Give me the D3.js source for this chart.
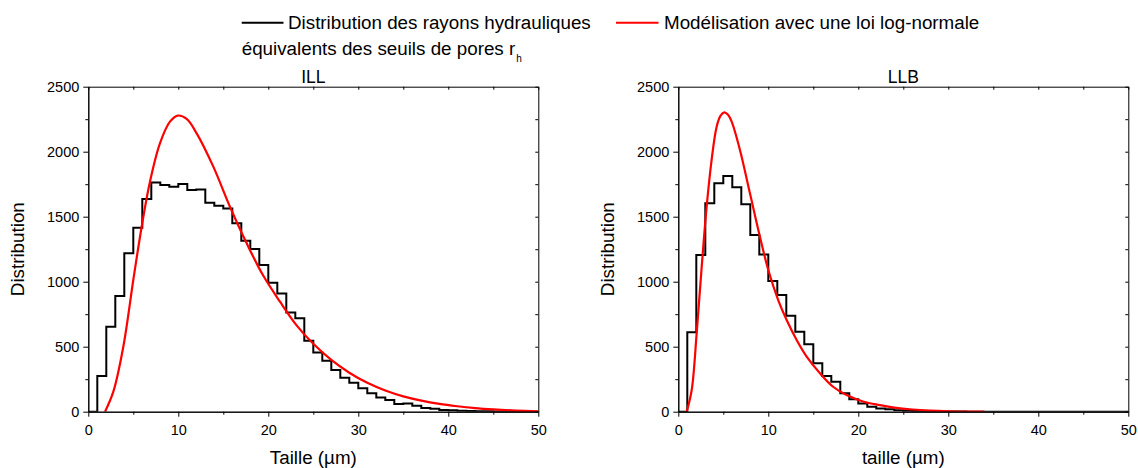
<!DOCTYPE html>
<html><head><meta charset="utf-8">
<script src="https://cdn.jsdelivr.net/npm/d3@7"></script>
<style>
body{margin:0;background:#fff}
svg{display:block;font-family:"Liberation Sans",Arial,sans-serif}
</style></head><body>
<svg id="c" width="1138" height="468"></svg>
<script>
// ---- data ----
const binStarts = [0,1,2,3,4,5,6,7,8,9,10,11,12,13,14,15,16,17,18,19,20,21,22,23,24,25,26,27,28,29,30,31,32,33,34,35,36,37,38,39,40,41,42,43,44,45,46,47,48,49];
const binWidth = 1;
const illCounts = [0,275,653,890,1218,1415,1636,1764,1743,1731,1751,1705,1710,1608,1584,1564,1449,1315,1251,1128,992,910,764,718,546,456,392,320,262,223,180,141,110,90,59,64,46,28,23,14,12,8,6,4,3,2,1,1,1,0];
const llbCounts = [0,611,1205,1603,1757,1813,1726,1595,1359,1210,1005,897,739,615,518,372,275,231,141,95,64,38,25,18,12,8,5,3,2,1,1,1,0,0,0,0,0,0,0,0,0,0,0,0,0,0,0,0,0,0];
const illFitX = [1.86,2.78,3.89,5.0,5.93,6.85,7.96,9.07,9.93,10.93,12.04,13.89,15.74,17.6,19.4,21.3,23.1,25.0,27.0,29.0,31.0,33.0,35.0,37.0,39.0,41.0,43.0,45.0,47.5,50];
const illFitY = [0,154,500,1013,1423,1769,2064,2231,2278,2252,2141,1885,1577,1295,1051,846,668,522,398,300,222,163,118,85,60,42,28,18,9,3];
const llbFitX = [0.93,1.49,2.04,2.6,3.15,3.7,4.26,4.7,5.11,5.5,5.93,6.85,7.96,9.07,10.0,11.1,12.04,13.15,14.26,15.74,17.2,18.7,20.6,22.4,24,26,28,30,32,34];
const llbFitY = [0,167,603,1115,1577,1936,2192,2277,2303,2286,2231,2013,1680,1346,1090,859,705,551,423,295,192,128,77,51,32,17,8,3,1,0];
const xMajor = [0,10,20,30,40,50];
const xMinor = [5,15,25,35,45];
const yMajor = [0,500,1000,1500,2000,2500];
const yMinor = [250,750,1250,1750,2250];
const legendLabels = ["Distribution des rayons hydrauliques", "équivalents des seuils de pores r", "h", "Modélisation avec une loi log-normale"];
const panelTitles = ["ILL","LLB"];
const xTitles = ["Taille (µm)","taille (µm)"];
const yTitle = "Distribution";

const svg = d3.select("#c");
const plotTop = 86.7, plotBottom = 411.7;

function panel(idx, left, counts, fx, fy){
  const right = left + 450;
  const x = d3.scaleLinear().domain([0,50]).range([left,right]);
  const y = d3.scaleLinear().domain([0,2500]).range([plotBottom,plotTop]);
  const g = svg.append("g");
  const cid = "clip"+idx;
  svg.append("clipPath").attr("id",cid).append("rect")
    .attr("x",left).attr("y",plotTop-2).attr("width",450).attr("height",plotBottom-plotTop+2);

  const pts = binStarts.map((b,i)=>[b,counts[i]]);
  pts.push([binStarts[binStarts.length-1]+binWidth, counts[counts.length-1]]);
  g.append("path").attr("clip-path",`url(#${cid})`)
    .attr("d", d3.line().x(d=>x(d[0])).y(d=>y(d[1])).curve(d3.curveStepAfter)(pts))
    .attr("fill","none").attr("stroke","#000").attr("stroke-width",2).attr("stroke-linejoin","miter");

  const fpts = fx.map((v,i)=>[v,fy[i]]);
  g.append("path").attr("clip-path",`url(#${cid})`)
    .attr("d", d3.line().x(d=>x(d[0])).y(d=>y(d[1])).curve(d3.curveCatmullRom.alpha(0.5))(fpts))
    .attr("fill","none").attr("stroke","#f00").attr("stroke-width",2.2);

  const style = sel => { sel.selectAll("path.domain").attr("stroke","#000").attr("stroke-width",1);
    sel.selectAll(".tick line").attr("stroke","#000").attr("stroke-width",1);
    sel.selectAll("text").attr("font-family","Liberation Sans, Arial, sans-serif").attr("font-size",14.5).attr("fill","#000"); };
  const fmt = d3.format("d");

  g.append("g").attr("transform",`translate(0,${plotBottom})`)
    .call(d3.axisBottom(x).tickValues(xMajor).tickFormat(fmt).tickSize(5).tickSizeOuter(0).tickPadding(8)).call(style);
  g.append("g").attr("transform",`translate(0,${plotBottom})`)
    .call(d3.axisBottom(x).tickValues(xMinor).tickSize(3).tickSizeOuter(0).tickFormat("")).call(style);
  g.append("g").attr("transform",`translate(${left},0)`)
    .call(d3.axisLeft(y).tickValues(yMajor).tickFormat(fmt).tickSize(5).tickSizeOuter(0).tickPadding(4)).call(style);
  g.append("g").attr("transform",`translate(${left},0)`)
    .call(d3.axisLeft(y).tickValues(yMinor).tickSize(3).tickSizeOuter(0).tickFormat("")).call(style);
  g.append("g").attr("transform",`translate(0,${plotTop})`)
    .call(d3.axisTop(x).tickValues(xMajor.concat(xMinor)).tickSize(-3).tickSizeOuter(0).tickFormat("")).call(style);
  g.append("g").attr("transform",`translate(${right},0)`)
    .call(d3.axisRight(y).tickValues(yMajor.concat(yMinor)).tickSize(-3).tickSizeOuter(0).tickFormat("")).call(style);

  const cx = (left+right)/2;
  g.append("text").attr("x",cx).attr("y",83.3).attr("text-anchor","middle")
    .attr("font-size",17.5).text(panelTitles[idx]);
  g.append("text").attr("x",cx).attr("y",464).attr("text-anchor","middle")
    .attr("font-size",18.8).text(xTitles[idx]);
  g.append("text").attr("transform",`translate(${left-64.5},${(plotTop+plotBottom)/2}) rotate(-90)`)
    .attr("text-anchor","middle").attr("font-size",18.8).text(yTitle);
}

panel(0, 88.3, illCounts, illFitX, illFitY);
panel(1, 678.3, llbCounts, llbFitX, llbFitY);

const lg = svg.append("g").attr("font-size",18.8);
lg.append("line").attr("x1",241.7).attr("x2",283.5).attr("y1",22.7).attr("y2",22.7).attr("stroke","#000").attr("stroke-width",2);
lg.append("text").attr("x",288).attr("y",28.5).text(legendLabels[0]);
const t2 = lg.append("text").attr("x",241.7).attr("y",55);
t2.append("tspan").text(legendLabels[1]);
t2.append("tspan").attr("font-size",10).attr("dx",1).attr("dy",7).text(legendLabels[2]);
lg.append("line").attr("x1",616).attr("x2",658.5).attr("y1",22.7).attr("y2",22.7).attr("stroke","#f00").attr("stroke-width",2);
lg.append("text").attr("x",664).attr("y",28.5).text(legendLabels[3]);
</script>
</body></html>
